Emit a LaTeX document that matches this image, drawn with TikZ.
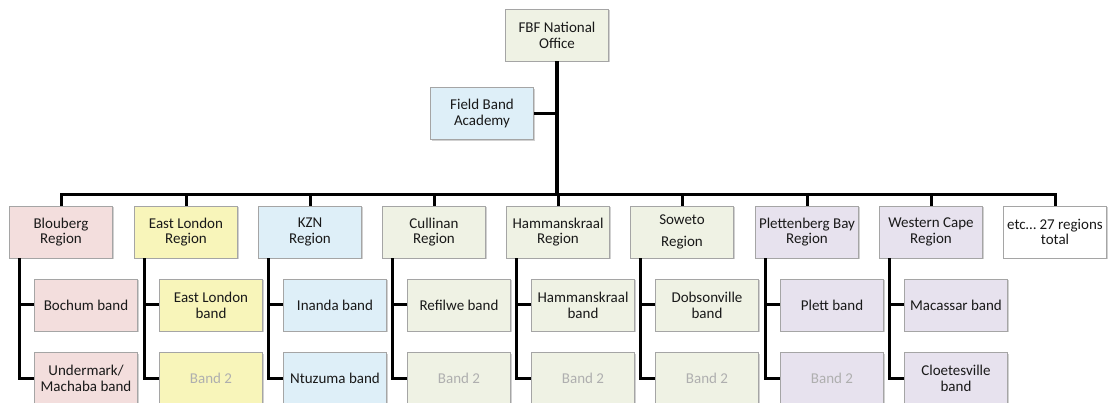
\documentclass[tikz,border=0pt]{standalone}
\usepackage{fontspec}
\setmainfont{Carlito}
\usetikzlibrary{shadows}
\definecolor{cpink}{RGB}{243,222,221}
\definecolor{cyel}{RGB}{248,245,186}
\definecolor{cblue}{RGB}{222,239,248}
\definecolor{cgreen}{RGB}{239,242,228}
\definecolor{clav}{RGB}{231,226,238}
\definecolor{cedge}{RGB}{165,165,165}
\definecolor{ctext}{RGB}{25,25,25}
\definecolor{cfaint}{RGB}{175,175,175}
\tikzset{
  box/.style={draw=cedge, line width=0.8pt, minimum width=103pt, minimum height=52pt,
    inner sep=1pt, align=center, text=ctext,
    font=\fontsize{15}{15.7}\selectfont,
    drop shadow={shadow xshift=1pt, shadow yshift=-1.5pt, fill=black, opacity=0.18}},
  faint/.style={text=cfaint},
  conn/.style={line width=3pt, black},
  trunk/.style={line width=4pt, black},
}
\begin{document}
\begin{tikzpicture}[x=1pt,y=1pt]
\useasboundingbox (0,0) rectangle (1109,-403);
% top
\node[box, fill=cgreen] (top) at (557,-35) {FBF National\\Office};
\node[box, fill=cblue] (fba) at (482,-113.5) {Field Band\\Academy};
% regions
\node[box, fill=cpink] (r1) at (61,-232) {Blouberg\\Region};
\node[box, fill=cyel] (r2) at (186,-232) {East London\\Region};
\node[box, fill=cblue] (r3) at (310,-232) {KZN\\Region};
\node[box, fill=cgreen] (r4) at (434,-232) {Cullinan\\Region};
\node[box, fill=cgreen] (r5) at (558,-232) {Hammanskraal\\Region};
\node[box, fill=cgreen, font=\fontsize{15}{21.7}\selectfont] (r6) at (682,-232) {Soweto\\Region};
\node[box, fill=clav] (r7) at (807,-232) {Plettenberg Bay\\Region};
\node[box, fill=clav] (r8) at (931,-232) {Western Cape\\Region};
\node[box, fill=white] (r9) at (1055,-232) {etc\dots\ 27 regions\\total};
% bands row 1
\node[box, fill=cpink] (b1a) at (86,-305) {Bochum band};
\node[box, fill=cyel] (b2a) at (211,-305) {East London\\band};
\node[box, fill=cblue] (b3a) at (335,-305) {Inanda band};
\node[box, fill=cgreen] (b4a) at (459,-305) {Refilwe band};
\node[box, fill=cgreen] (b5a) at (583,-305) {Hammanskraal\\band};
\node[box, fill=cgreen] (b6a) at (707,-305) {Dobsonville\\band};
\node[box, fill=clav] (b7a) at (832,-305) {Plett band};
\node[box, fill=clav] (b8a) at (956,-305) {Macassar band};
% bands row 2
\node[box, fill=cpink] (b1b) at (86,-378.5) {Undermark/\\Machaba band};
\node[box, fill=cyel, faint] (b2b) at (211,-378.5) {Band 2};
\node[box, fill=cblue] (b3b) at (335,-378.5) {Ntuzuma band};
\node[box, fill=cgreen, faint] (b4b) at (459,-378.5) {Band 2};
\node[box, fill=cgreen, faint] (b5b) at (583,-378.5) {Band 2};
\node[box, fill=cgreen, faint] (b6b) at (707,-378.5) {Band 2};
\node[box, fill=clav, faint] (b7b) at (832,-378.5) {Band 2};
\node[box, fill=clav] (b8b) at (956,-378.5) {Cloetesville\\band};
% connectors
\coordinate (bus) at (557,-195);
\draw[trunk] (top.south) -- (bus);
\draw[conn] (fba.east) -- (fba.east -| top.south);
\draw[conn] (r1.north) |- (bus) -| (r9.north);
\foreach \r in {r2,r3,r4,r5,r6,r7,r8}{
  \draw[conn] (\r.north) -- (\r.north |- bus);
}
\foreach \i in {1,...,8}{
  \draw[conn] ([xshift=10pt]r\i.south west) |- (b\i b.west);
  \draw[conn] ([xshift=10pt]r\i.south west |- b\i a.west) -- (b\i a.west);
}
\end{tikzpicture}
\end{document}
